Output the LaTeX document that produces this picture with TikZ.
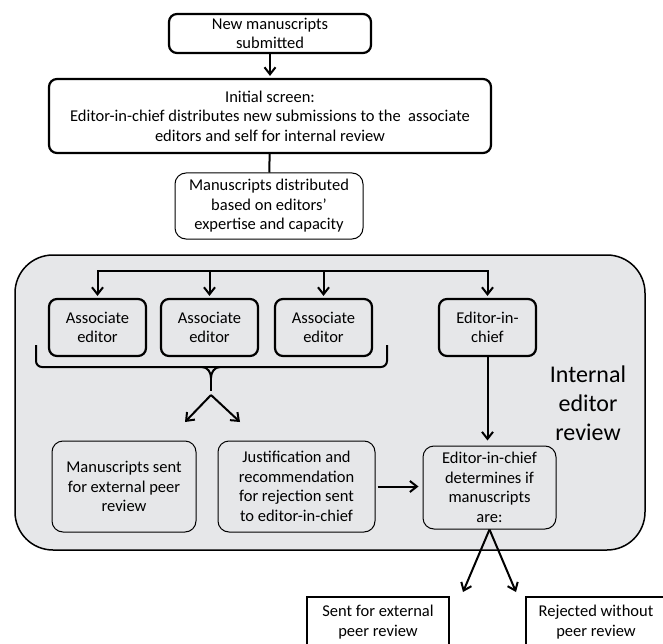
\documentclass[tikz,border=0pt]{standalone}
\usepackage{fontspec}
\setmainfont{Carlito}
\usetikzlibrary{arrows.meta}
\definecolor{areagray}{RGB}{230,231,233}
\tikzset{
    boldbox/.style={draw, line width=2.2pt, rounded corners=8pt, align=center, inner sep=2pt},
    thinbox/.style={draw, line width=1pt, rounded corners=11pt, align=center, inner sep=2pt},
    outbox/.style={draw, line width=1.6pt, align=center, inner sep=2pt},
    area/.style={draw, fill=areagray, line width=1.5pt, rounded corners=38pt,
        minimum width=630pt, minimum height=295pt},
    conn/.style={line width=2pt}
}

\begin{document}
\begin{tikzpicture}[x=1pt,y=-1pt,->,>={Straight Barb[length=7pt,width=11pt]},
        every node/.style={font=\fontsize{16.5}{19.5}\selectfont}]
            \clip (0,0) rectangle (663,644);
            \useasboundingbox (0,0) rectangle (663,644);
            \node[area] (review) at (330,402.5) {};
            \node[boldbox, minimum width=202pt, minimum height=39pt] (new) at (270,33.5)
                {New manuscripts\\submitted};
            \node[boldbox, minimum width=442pt, minimum height=74pt] (screen) at (270,116)
                {Initial screen:\\Editor-in-chief distributes new submissions to the \ associate\\editors and self for internal review};
            \node[thinbox, minimum width=188pt, minimum height=66pt] (distrib) at (269,206)
                {Manuscripts distributed\\based on editors'\\expertise and capacity};
            \foreach \i/\x in {1/97.5,2/209.5,3/323.5}
                \node[boldbox, minimum width=97pt, minimum height=57pt] (assoc\i) at (\x,327.5)
                    {Associate\\editor};
            \node[boldbox, minimum width=97pt, minimum height=57pt] (chief) at (487.5,327.5)
                {Editor-in-\\chief};
            \node[thinbox, minimum width=144pt, minimum height=91pt] (external) at (124,486.5)
                {Manuscripts sent\\for external peer\\review};
            \node[thinbox, minimum width=157pt, minimum height=91pt] (justify) at (296.5,486.5)
                {Justification and\\recommendation\\for rejection sent\\to editor-in-chief};
            \node[thinbox, minimum width=133pt, minimum height=83pt] (decide) at (489.5,487.5)
                {Editor-in-chief\\determines if\\manuscripts\\are:};
            \node[align=center, font=\fontsize{24}{29}\selectfont] (label) at (588,403)
                {Internal\\editor\\review};
            \node[outbox, minimum width=142pt, minimum height=50pt] (sent) at (378,622)
                {Sent for external\\peer review};
            \node[outbox, minimum width=140pt, minimum height=50pt] (reject) at (596,622)
                {Rejected without\\peer review};

            \coordinate (fan) at (300,271);
            \coordinate (brtip) at (211,391);
            \coordinate (vtop) at (211,395);
            \coordinate (vleft) at (185,422);
            \coordinate (vright) at (240,422);
            \coordinate (outL) at (463,592);
            \coordinate (outR) at (516,592);

            \draw[conn, shorten >=2pt] (new) -- (screen);
            \draw[conn, -] (screen) -- (distrib);
            \draw[conn, <->, shorten <=2pt, shorten >=2pt] (assoc1.north) |- (fan) -| (chief.north);
            \foreach \i in {2,3}
                \draw[conn, shorten >=2pt] (assoc\i.north |- fan) -- (assoc\i.north);
            \draw[conn, -, rounded corners=6pt] (36,345) |- (387,367) -- (387,345);
            \draw[conn, -] (202,367) to[out=0,in=90] (211,378) to[out=90,in=180] (220,367);
            \draw[conn, -] (211,378) -- (brtip);
            \draw[conn] (vtop) -- (vleft);
            \draw[conn] (vtop) -- (vright);
            \draw[conn, shorten >=5pt] (chief.south) -- (chief.south |- decide.north);
            \draw[conn, shorten <=2pt, shorten >=4pt] (justify.east) -- (justify.east -| decide.west);
            \draw[conn] (decide.south) -- (outL);
            \draw[conn] (decide.south) -- (outR);
        \end{tikzpicture}
\end{document}
